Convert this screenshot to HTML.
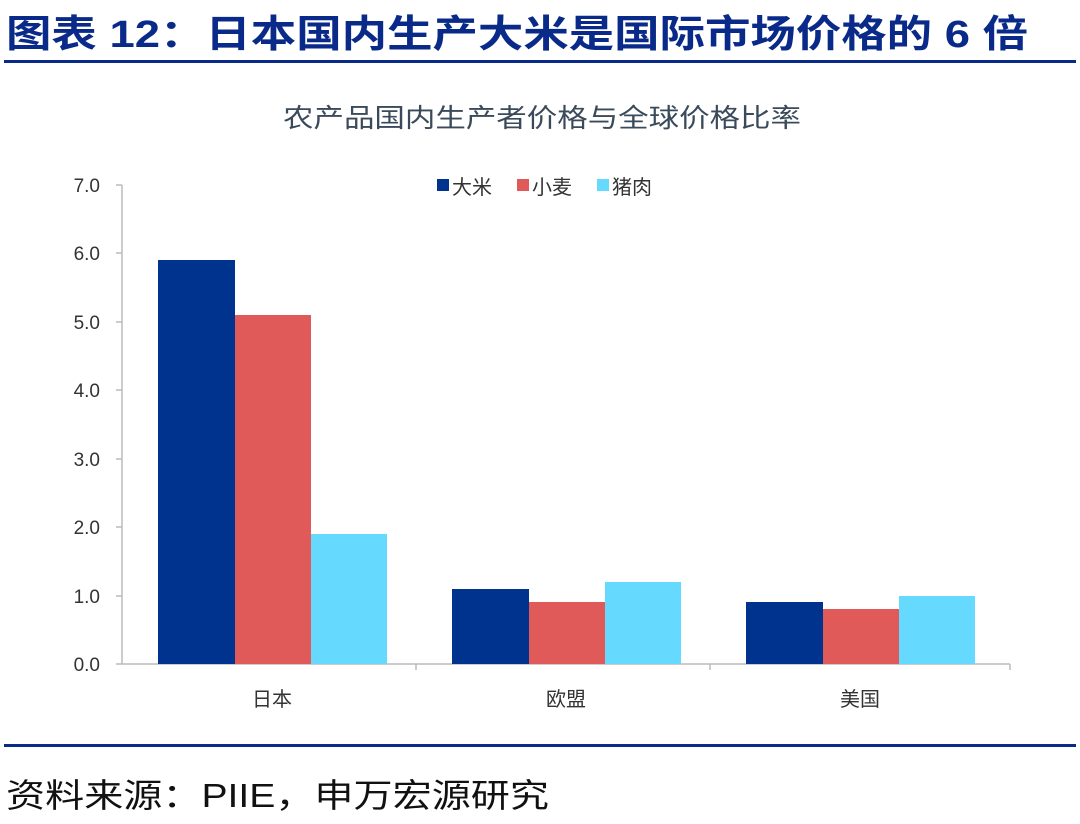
<!DOCTYPE html>
<html><head><meta charset="utf-8"><style>
body{margin:0;background:#fff;width:1080px;height:819px;overflow:hidden;font-family:"Liberation Sans","Noto Sans CJK SC",sans-serif;}
</style></head><body>
<svg width="1080" height="819" xmlns="http://www.w3.org/2000/svg" font-family="Liberation Sans, Noto Sans CJK SC, sans-serif">
<text x="6" y="47" font-size="38" font-weight="bold" fill="#0a2a8a" textLength="1022" lengthAdjust="spacingAndGlyphs">图表 12：日本国内生产大米是国际市场价格的 6 倍</text>
<rect x="4" y="60" width="1072" height="3" fill="#0a2a8a"/>
<text x="283" y="127" font-size="26" fill="#3a4a5a" textLength="518" lengthAdjust="spacingAndGlyphs">农产品国内生产者价格与全球价格比率</text>
<g font-size="19" fill="#333" text-anchor="end">
<text x="100" y="192">7.0</text><text x="100" y="260">6.0</text><text x="100" y="329">5.0</text>
<text x="100" y="397">4.0</text><text x="100" y="466">3.0</text><text x="100" y="534">2.0</text>
<text x="100" y="603">1.0</text><text x="100" y="671">0.0</text>
</g>
<g stroke="#bbb" stroke-width="1.5">
<line x1="122" y1="185" x2="122" y2="664"/><line x1="122" y1="664" x2="1010" y2="664"/>
<line x1="116" y1="185" x2="122" y2="185"/><line x1="116" y1="253" x2="122" y2="253"/><line x1="116" y1="322" x2="122" y2="322"/>
<line x1="116" y1="390" x2="122" y2="390"/><line x1="116" y1="459" x2="122" y2="459"/><line x1="116" y1="527" x2="122" y2="527"/>
<line x1="116" y1="596" x2="122" y2="596"/><line x1="116" y1="664" x2="122" y2="664"/>
<line x1="416" y1="664" x2="416" y2="670"/><line x1="710" y1="664" x2="710" y2="670"/><line x1="1010" y1="664" x2="1010" y2="670"/>
</g>
<g>
<rect x="158" y="260" width="77" height="404" fill="#00338d"/>
<rect x="235" y="315" width="76" height="349" fill="#e15a5a"/>
<rect x="311" y="534" width="76" height="130" fill="#66d9ff"/>
<rect x="452" y="589" width="77" height="75" fill="#00338d"/>
<rect x="529" y="602" width="76" height="62" fill="#e15a5a"/>
<rect x="605" y="582" width="76" height="82" fill="#66d9ff"/>
<rect x="746" y="602" width="77" height="62" fill="#00338d"/>
<rect x="823" y="609" width="76" height="55" fill="#e15a5a"/>
<rect x="899" y="596" width="76" height="68" fill="#66d9ff"/>
</g>
<g font-size="20" fill="#333" text-anchor="middle">
<text x="272" y="706">日本</text><text x="566" y="706">欧盟</text><text x="860" y="706">美国</text>
</g>
<g font-size="20" fill="#333">
<rect x="437" y="179" width="12" height="12" fill="#00338d"/><text x="452" y="194">大米</text>
<rect x="517" y="179" width="12" height="12" fill="#e15a5a"/><text x="532" y="194">小麦</text>
<rect x="597" y="179" width="12" height="12" fill="#66d9ff"/><text x="612" y="194">猪肉</text>
</g>
<rect x="4" y="744" width="1072" height="3" fill="#0a2a8a"/>
<text x="6" y="807" font-size="33" fill="#111" textLength="543" lengthAdjust="spacingAndGlyphs">资料来源：PIIE，申万宏源研究</text>
</svg>
</body></html>
